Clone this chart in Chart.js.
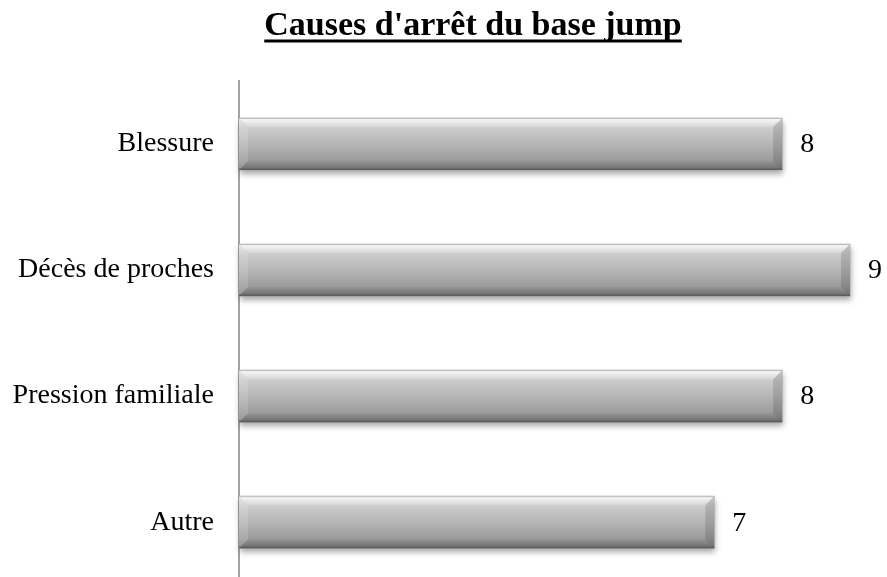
<!DOCTYPE html>
<html>
<head>
<meta charset="utf-8">
<script src="https://cdn.jsdelivr.net/npm/chart.js@4.4.0/dist/chart.umd.min.js"></script>
<style>
  html, body { margin: 0; padding: 0; background: #ffffff; overflow: hidden; }
  canvas { display: block; }
</style>
</head>
<body>
<canvas id="chart" width="887" height="627"></canvas>
<script>
// Data
const chartTitle = "Causes d'arrêt du base jump";
const categories = ['Blessure', 'Décès de proches', 'Pression familiale', 'Autre'];
const counts = [8, 9, 8, 7];

const SERIF = '"Liberation Serif", "Times New Roman", serif';
const LABEL_SIZE = 28;
const TITLE_FONT = 'bold 34px ' + SERIF;

// Bold underlined heading above the plot
const underlinedTitle = {
  id: 'underlinedTitle',
  afterDraw(chart) {
    const ctx = chart.ctx;
    ctx.save();
    ctx.font = TITLE_FONT;
    ctx.fillStyle = '#000000';
    ctx.textAlign = 'center';
    ctx.textBaseline = 'alphabetic';
    const cx = 473, baseline = 35;
    ctx.fillText(chartTitle, cx, baseline);
    const w = ctx.measureText(chartTitle).width;
    ctx.fillRect(cx - w / 2, baseline + 4.5, w, 3);
    ctx.restore();
  }
};

// Bevelled grey bars with a soft drop shadow, plus value labels
const bevelBars = {
  id: 'bevelBars',
  beforeDatasetsDraw(chart) {
    const ctx = chart.ctx;
    const meta = chart.getDatasetMeta(0);
    ctx.save();
    meta.data.forEach(bar => {
      const top = bar.y - bar.height / 2;
      ctx.shadowColor = 'rgba(0,0,0,0.35)';
      ctx.shadowBlur = 6;
      ctx.shadowOffsetX = 1;
      ctx.shadowOffsetY = 4;
      ctx.fillStyle = '#999999';
      ctx.fillRect(bar.base, top, bar.x - bar.base, bar.height);
    });
    ctx.restore();
  },
  afterDatasetsDraw(chart) {
    const ctx = chart.ctx;
    const meta = chart.getDatasetMeta(0);
    const b = 9;
    ctx.save();
    meta.data.forEach((bar, i) => {
      const left = bar.base, right = bar.x;
      const top = bar.y - bar.height / 2, bottom = bar.y + bar.height / 2;

      // body
      const g = ctx.createLinearGradient(0, top, 0, bottom);
      g.addColorStop(0, '#e4e4e4');
      g.addColorStop(0.2, '#cbcbcb');
      g.addColorStop(0.55, '#b2b2b2');
      g.addColorStop(0.82, '#9b9b9b');
      g.addColorStop(1, '#7e7e7e');
      ctx.fillStyle = g;
      ctx.fillRect(left, top, right - left, bottom - top);

      // top bevel
      const gt = ctx.createLinearGradient(0, top, 0, top + b);
      gt.addColorStop(0, '#fbfbfb');
      gt.addColorStop(1, '#d6d6d6');
      ctx.fillStyle = gt;
      ctx.beginPath();
      ctx.moveTo(left, top); ctx.lineTo(right, top);
      ctx.lineTo(right - b, top + b); ctx.lineTo(left + b, top + b);
      ctx.closePath(); ctx.fill();

      // bottom bevel
      const gb = ctx.createLinearGradient(0, bottom - b, 0, bottom);
      gb.addColorStop(0, '#959595');
      gb.addColorStop(1, '#6a6a6a');
      ctx.fillStyle = gb;
      ctx.beginPath();
      ctx.moveTo(left, bottom); ctx.lineTo(right, bottom);
      ctx.lineTo(right - b, bottom - b); ctx.lineTo(left + b, bottom - b);
      ctx.closePath(); ctx.fill();

      // left bevel (lighter)
      ctx.fillStyle = 'rgba(255,255,255,0.14)';
      ctx.beginPath();
      ctx.moveTo(left, top); ctx.lineTo(left + b, top + b);
      ctx.lineTo(left + b, bottom - b); ctx.lineTo(left, bottom);
      ctx.closePath(); ctx.fill();

      // right bevel (darker)
      ctx.fillStyle = 'rgba(0,0,0,0.13)';
      ctx.beginPath();
      ctx.moveTo(right, top); ctx.lineTo(right - b, top + b);
      ctx.lineTo(right - b, bottom - b); ctx.lineTo(right, bottom);
      ctx.closePath(); ctx.fill();

      // thin edges
      ctx.fillStyle = '#b8b8b8';
      ctx.fillRect(left, top, right - left, 1);
      ctx.fillStyle = '#5e5e5e';
      ctx.fillRect(left, bottom - 1.5, right - left, 1.5);

      // value label
      ctx.font = LABEL_SIZE + 'px ' + SERIF;
      ctx.fillStyle = '#000000';
      ctx.textAlign = 'left';
      ctx.textBaseline = 'middle';
      ctx.fillText(String(counts[i]), right + 18, bar.y + 1);
    });
    ctx.restore();
  }
};

new Chart(document.getElementById('chart'), {
  type: 'bar',
  data: {
    labels: categories,
    datasets: [{
      data: counts,
      backgroundColor: '#b0b0b0',
      borderWidth: 0,
      barThickness: 52
    }]
  },
  options: {
    indexAxis: 'y',
    responsive: false,
    animation: false,
    devicePixelRatio: 1,
    layout: { padding: { top: 81, left: 0, right: 3, bottom: 0 } },
    plugins: {
      legend: { display: false },
      tooltip: { enabled: false },
      title: { display: false }
    },
    scales: {
      x: {
        display: false,
        min: 0,
        max: 9.5
      },
      y: {
        grid: { display: false, drawTicks: false },
        border: { display: true, color: '#a3a3a3', width: 2 },
        ticks: {
          color: '#000000',
          padding: 25,
          font: { family: SERIF, size: LABEL_SIZE }
        },
        afterFit(scale) { scale.width = 239; }
      }
    }
  },
  plugins: [bevelBars, underlinedTitle]
});
</script>
</body>
</html>
